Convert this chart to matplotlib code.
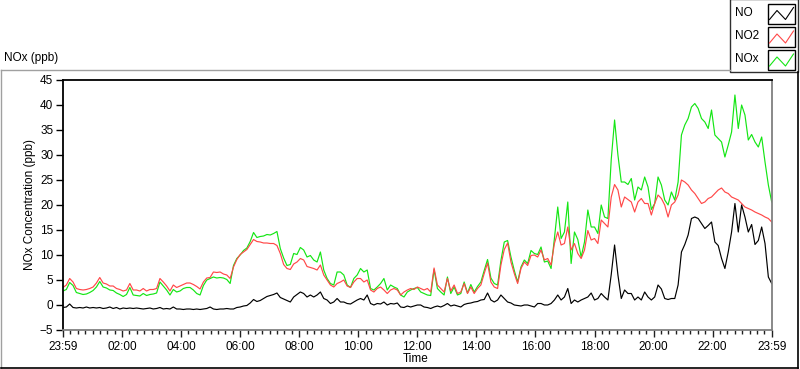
import numpy as np
import matplotlib
matplotlib.use("Agg")
import matplotlib.pyplot as plt
from matplotlib.patches import Rectangle
from matplotlib.ticker import MultipleLocator

plt.rcParams['font.family'] = ['Liberation Sans', 'DejaVu Sans']

# ---- data (ppb), one sample every ~6.8 min from 23:59 to 23:59 ----
no = [
 -0.6,-0.5,0.1,-0.6,-0.7,-0.6,-0.7,-0.5,-0.7,-0.6,-0.7,-0.6,-0.8,-0.7,-0.5,-0.8,-0.6,-0.9,-0.7,-0.8,
 -0.7,-0.8,-0.7,-0.8,-0.9,-0.8,-0.7,-0.9,-0.8,-0.6,-0.9,-0.8,-0.9,-0.5,-0.9,
 -0.9,-1.0,-0.9,-0.9,-1.0,-0.9,-1.0,-0.9,-0.8,-0.5,-0.9,-1.0,-0.9,-0.9,-0.8,-0.9,-0.9,-0.6,-0.5,-0.3,
 -0.2,0.3,1.0,0.6,0.8,1.2,1.6,1.8,2.0,2.3,1.4,1.1,0.8,0.5,1.5,2.0,
 2.5,2.2,1.5,1.9,1.5,1.9,2.5,1.2,0.9,0.2,0.5,1.2,0.5,0.5,0.2,0.1,0.5,0.9,1.2,0.9,
 1.9,0.2,-0.1,0.2,0.1,0.5,-0.1,0.2,0.1,0.3,-0.5,-0.6,-0.3,-0.5,-0.3,-0.1,
 -0.1,-0.5,-0.6,-0.8,-0.5,-0.3,-0.5,-0.2,0.2,-0.3,-0.1,-0.3,-0.5,0.0,0.2,0.3,0.5,0.6,0.9,1.0,
 2.3,0.9,0.5,0.9,1.9,1.2,0.5,0.3,-0.1,-0.2,-0.3,-0.1,-0.1,-0.3,-0.5,0.2,
 0.2,-0.1,-0.1,0.2,0.9,1.9,0.9,1.5,3.2,0.2,0.9,0.5,0.9,1.2,1.5,2.3,0.9,1.2,2.2,1.5,
 0.9,6.0,11.9,5.9,1.2,2.9,2.2,2.2,0.9,1.5,0.9,2.5,1.5,0.9,1.5,3.9,
 3.1,1.2,1.0,1.2,1.2,3.9,10.5,12.0,13.9,17.2,17.5,17.2,16.2,15.2,15.8,16.5,12.5,11.8,9.2,7.2,
 10.5,14.5,20.2,14.5,19.9,17.5,14.5,16.0,12.0,12.8,15.5,12.2,5.5,4.2,
]
no2 = [
 3.4,3.9,5.2,4.5,3.2,3.0,2.9,3.0,3.2,3.5,4.3,5.4,4.3,4.1,3.7,3.7,3.2,3.0,2.7,2.9,
 4.2,2.9,2.9,2.7,3.2,2.7,3.0,3.0,3.2,5.2,4.5,3.7,2.7,3.9,3.4,
 3.7,4.0,4.3,4.3,4.0,3.6,3.1,4.5,5.3,5.4,6.5,6.4,6.5,6.1,5.9,5.2,7.5,9.0,10.0,10.5,
 11.0,12.0,13.0,12.6,12.5,12.3,12.3,12.2,12.2,11.8,10.2,8.0,7.2,7.0,8.1,8.5,
 9.2,8.9,7.6,7.4,7.2,6.9,7.9,5.9,4.9,3.9,3.5,4.2,4.5,4.9,3.7,3.4,4.5,5.2,5.2,4.5,
 4.9,2.9,2.5,3.2,3.5,2.9,2.2,2.9,3.2,2.9,1.9,2.5,2.9,3.2,3.0,3.5,
 3.2,2.9,3.2,2.5,7.3,3.9,3.2,2.5,5.2,2.7,3.9,2.2,2.5,4.2,2.2,3.5,2.2,3.2,3.9,6.2,
 8.3,4.5,3.5,3.2,7.9,11.0,12.3,8.5,6.2,4.2,7.2,8.5,7.8,9.8,9.9,9.5,
 10.9,8.9,9.2,7.9,12.2,14.5,11.9,12.2,15.5,10.9,12.2,10.2,9.2,10.9,14.8,12.9,13.2,12.2,16.9,16.2,
 15.5,21.5,24.0,22.9,19.5,21.5,21.0,20.5,18.5,20.5,21.2,20.2,20.2,17.9,20.2,21.9,
 21.2,19.9,17.5,19.9,20.5,21.9,24.9,24.5,23.9,22.9,22.2,21.2,20.2,20.5,21.2,21.5,22.2,22.9,23.3,22.5,
 22.2,21.5,21.2,20.9,20.2,19.5,19.2,18.9,18.5,18.2,17.9,17.5,17.2,16.5,
]
nox = [
 2.7,3.0,4.4,3.8,2.4,2.2,2.0,2.1,2.4,2.8,3.5,4.6,3.5,3.3,2.9,2.8,2.3,2.0,1.6,2.0,
 3.4,1.9,1.8,1.7,2.2,1.8,2.0,2.1,2.3,4.5,3.7,2.9,1.9,3.0,2.5,
 2.7,3.2,3.4,3.4,2.9,2.2,1.9,3.8,4.9,5.2,5.5,5.3,5.4,5.3,5.0,4.2,7.8,9.2,9.9,10.8,
 11.3,12.6,14.4,13.4,13.6,13.7,14.0,13.9,14.2,14.6,11.2,9.3,7.8,8.0,10.2,10.0,
 11.4,10.9,9.5,9.8,8.9,8.5,10.5,6.9,5.2,4.2,3.9,6.5,6.5,5.9,3.9,3.4,5.2,5.9,7.2,6.5,
 6.9,3.2,2.9,3.5,4.2,5.2,2.9,3.9,3.5,3.2,1.9,1.5,2.5,2.9,3.2,3.4,
 2.5,2.2,1.9,1.8,7.0,3.2,2.5,1.9,5.5,2.2,3.5,1.9,2.2,4.5,2.3,4.0,2.5,3.6,4.5,6.8,
 9.0,5.3,4.2,3.9,8.8,12.5,12.8,9.5,6.8,4.5,7.5,8.9,8.2,10.8,10.2,10.0,
 11.5,8.5,8.7,7.2,13.2,19.5,13.2,14.5,20.5,8.2,14.5,13.0,9.5,12.5,18.9,15.5,15.5,14.2,19.9,17.5,
 17.2,29.0,36.9,29.9,24.5,24.5,24.0,25.2,20.9,23.5,22.9,25.5,23.5,19.0,20.2,25.5,
 23.9,20.9,19.9,22.5,20.9,24.5,33.9,35.9,37.2,39.5,40.2,39.2,37.2,36.5,35.2,38.9,33.9,33.2,32.5,29.5,
 31.9,34.5,41.9,35.2,39.9,37.9,32.9,34.0,32.5,31.5,33.5,28.5,23.9,20.5,
]
tick_labels = ["23:59", "02:00", "04:00", "06:00", "08:00", "10:00", "12:00",
               "14:00", "16:00", "18:00", "20:00", "22:00", "23:59"]
series_names = ["NO", "NO2", "NOx"]
series_colors = ["#000000", "#FF4848", "#14E614"]

hours = np.linspace(0, 24, len(no))

W, H = 800, 369
fig = plt.figure(figsize=(W / 100, H / 100), dpi=100)
fig.patch.set_facecolor("white")

# overlay in pixel coordinates for frame, titles and legend
ov = fig.add_axes([0, 0, 1, 1], zorder=0)
ov.set_xlim(0, W)
ov.set_ylim(H, 0)
ov.axis("off")

# outer panel frame
ov.plot([0.5, 0.5], [368, 69.5], color="#a0a0a0", lw=1)
ov.plot([0.5, 730], [69.5, 69.5], color="#a0a0a0", lw=1)
ov.plot([0.5, 798], [367.5, 367.5], color="#000000", lw=1.2)
ov.plot([797.5, 797.5], [72, 368], color="#000000", lw=1.2)

fs = 8.5
ov.text(4, 58, "NOx (ppb)", ha="left", va="center", fontsize=fs)
ov.text(416, 359, "Time", ha="center", va="center", fontsize=fs)
ov.text(30, 204, "NOx Concentration (ppb)", ha="center", va="center",
        rotation=90, fontsize=fs)

# legend
ov.add_patch(Rectangle((730, -1), 68, 72.5, facecolor="white",
                       edgecolor="#303030", lw=1))
for i, (name, col) in enumerate(zip(series_names, series_colors)):
    top = [3.5, 27, 50][i]
    cy = [13, 36, 59][i]
    ov.text(735, cy, name, ha="left", va="center", fontsize=fs)
    ov.add_patch(Rectangle((767.5, top), 27.5, 20, facecolor="white",
                           edgecolor="black", lw=1))
    ov.plot([769.5, 777, 785.5, 793.5],
            [top + 16, top + 7, top + 16, top + 4], color=col, lw=0.8)

# main plot
ax = fig.add_axes([63 / W, 1 - 329.5 / H, (771.7 - 63) / W, 250 / H], zorder=1)
ax.set_facecolor("white")
ax.plot(hours, nox, color=series_colors[2], lw=0.85)
ax.plot(hours, no2, color=series_colors[1], lw=0.85)
ax.plot(hours, no, color=series_colors[0], lw=0.85)

ax.set_xlim(0, 24)
ax.set_ylim(-5, 45)
ax.set_yticks(np.arange(-5, 46, 5))
ax.set_xticks(np.arange(0, 25, 2))
ax.set_xticklabels(tick_labels)
ax.xaxis.set_minor_locator(MultipleLocator(0.25))
ax.tick_params(axis="y", length=5, width=1, color="black", labelsize=fs, pad=2)
ax.tick_params(axis="x", which="major", length=5, width=1, color="#202020",
               labelsize=fs, pad=3)
ax.tick_params(axis="x", which="minor", length=3, width=1, color="#202020")
for s, c in [("left", "black"), ("top", "black"),
             ("right", "#808080"), ("bottom", "#808080")]:
    ax.spines[s].set_color(c)
    ax.spines[s].set_linewidth(1.3)

fig.savefig("out.png", dpi=100)
